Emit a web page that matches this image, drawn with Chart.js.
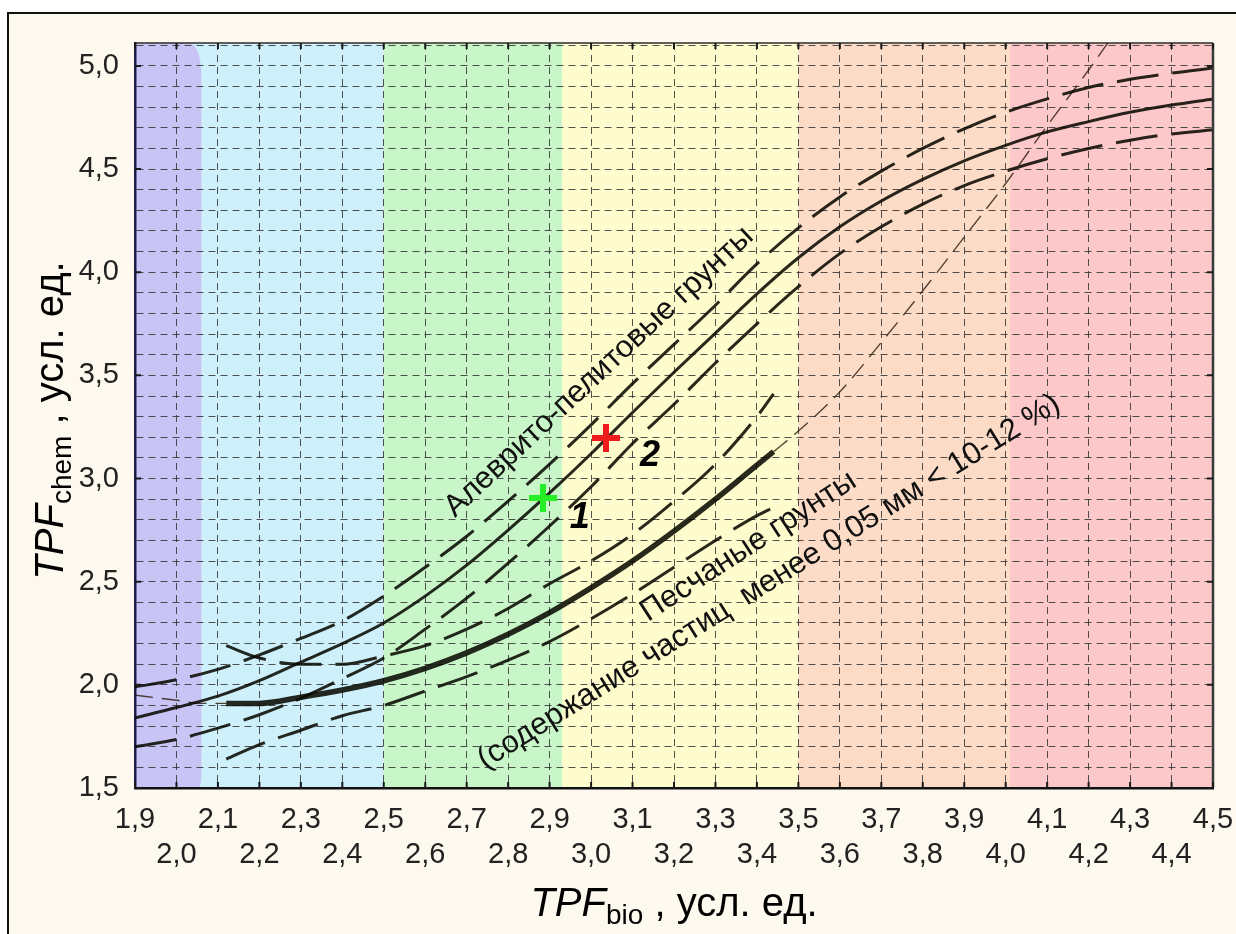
<!DOCTYPE html>
<html lang="ru">
<head>
<meta charset="UTF-8">
<title>TPF chem / TPF bio</title>
<style>
  html, body { margin: 0; padding: 0; background: #fff; overflow: hidden; }
  .frame {
    position: absolute; left: 7px; top: 12px; width: 1240px; height: 930px;
    border-left: 2px solid #111; border-top: 2px solid #111; background: #fdf9ee;
  }
  #chart { position: absolute; left: 0; top: 0; }
</style>
</head>
<body>
<div class="frame"></div>
<canvas id="chart" width="1236" height="934"></canvas>

<script src="https://cdn.jsdelivr.net/npm/chart.js"></script>
<script>
  // зоны по TPF_bio (границы цветных полос)
  const zoneEdges = [1.9, 2.06, 2.5, 2.93, 3.5, 4.01, 4.5];

  // алеврито-пелитовые грунты: кривая и доверительные границы
  const aX      = [1.9, 2.0, 2.1, 2.2, 2.3, 2.4, 2.5, 2.6, 2.7, 2.8, 2.9, 3.0, 3.1, 3.2, 3.3, 3.4, 3.5, 3.6, 3.7, 3.8, 3.9, 4.0, 4.1, 4.2, 4.3, 4.4, 4.5];
  const aCenter = [1.84, 1.89, 1.945, 2.02, 2.11, 2.2, 2.3, 2.43, 2.58, 2.75, 2.93, 3.12, 3.32, 3.515, 3.705, 3.895, 4.07, 4.22, 4.345, 4.45, 4.54, 4.615, 4.68, 4.73, 4.775, 4.81, 4.84];
  const aUpper  = [1.99, 2.025, 2.075, 2.145, 2.225, 2.31, 2.43, 2.57, 2.72, 2.89, 3.07, 3.26, 3.46, 3.65, 3.84, 4.04, 4.215, 4.365, 4.49, 4.6, 4.695, 4.775, 4.84, 4.895, 4.935, 4.965, 4.99];
  const aLower  = [1.7, 1.735, 1.79, 1.855, 1.935, 2.03, 2.13, 2.27, 2.42, 2.59, 2.77, 2.96, 3.17, 3.36, 3.56, 3.75, 3.93, 4.09, 4.22, 4.33, 4.42, 4.49, 4.55, 4.6, 4.64, 4.67, 4.69];

  // песчаные грунты: кривая и доверительные границы
  const bX      = [2.12, 2.2, 2.3, 2.4, 2.5, 2.6, 2.7, 2.8, 2.9, 3.0, 3.1, 3.2, 3.3, 3.4, 3.44];
  const bCenter = [1.91, 1.91, 1.94, 1.975, 2.02, 2.08, 2.155, 2.245, 2.35, 2.47, 2.6, 2.745, 2.9, 3.065, 3.13];
  const bUpper  = [2.19, 2.13, 2.1, 2.1, 2.14, 2.19, 2.27, 2.37, 2.49, 2.6, 2.73, 2.89, 3.07, 3.3, 3.41];
  const bLower  = [1.64, 1.71, 1.78, 1.85, 1.9, 1.97, 2.04, 2.12, 2.21, 2.32, 2.44, 2.57, 2.7, 2.82, 2.86];

  // продолжение кривой песчаных грунтов за пределы данных
  const bLeftX  = [1.9, 2.0, 2.06, 2.12];
  const bLeft   = [1.95, 1.925, 1.91, 1.91];
  const bRightX = [3.44, 3.5, 3.6, 3.7, 3.8, 3.9, 4.0, 4.1, 4.2, 4.26];
  const bRight  = [3.13, 3.23, 3.42, 3.66, 3.91, 4.17, 4.43, 4.71, 4.98, 5.15];

  // пробы 1 и 2
  const sampleX = [2.884, 3.036];
  const sampleY = [2.906, 3.197];
  const sampleNames = ['1', '2'];

  const zoneColors = ['#c9c4f6', '#cdf0fa', '#c9f6c8', '#fefbcd', '#fddcc7', '#fcc8c9'];
  const FONT = "'Liberation Sans', Arial, sans-serif";
  const LINE = 'rgba(10,10,2,0.88)';

  const pts = (xs, ys) => xs.map((x, i) => ({x: x, y: ys[i]}));
  const fmt = v => v.toFixed(1).replace('.', ',');

  const zonePlugin = {
    id: 'zones',
    beforeDraw(chart) {
      const {ctx, chartArea: a, scales: {x}} = chart;
      ctx.save();
      ctx.fillStyle = zoneColors[1];
      ctx.fillRect(a.left, a.top, x.getPixelForValue(zoneEdges[2]) - a.left, a.bottom - a.top);
      for (let i = 2; i < zoneColors.length; i++) {
        const x1 = x.getPixelForValue(zoneEdges[i]);
        const x2 = x.getPixelForValue(zoneEdges[i + 1]);
        ctx.fillStyle = zoneColors[i];
        ctx.fillRect(x1, a.top, x2 - x1, a.bottom - a.top);
      }
      // первая зона со скруглённым верхним углом
      const e = x.getPixelForValue(zoneEdges[1]);
      ctx.fillStyle = zoneColors[0];
      ctx.beginPath();
      ctx.moveTo(a.left, a.top);
      ctx.lineTo(e - 14, a.top);
      ctx.quadraticCurveTo(e, a.top, e, a.top + 36);
      ctx.lineTo(e, a.bottom - 16);
      ctx.quadraticCurveTo(e, a.bottom, e - 3, a.bottom);
      ctx.lineTo(a.left, a.bottom);
      ctx.closePath();
      ctx.fill();
      ctx.restore();
    }
  };

  function richText(ctx, parts, cx, cy) {
    let total = 0;
    parts.forEach(p => { ctx.font = p.font; p.w = ctx.measureText(p.t).width; total += p.w; });
    let px = cx - total / 2;
    parts.forEach(p => {
      ctx.font = p.font;
      ctx.fillText(p.t, px, cy + p.dy);
      px += p.w;
    });
  }

  const overlayPlugin = {
    id: 'overlay',
    afterDraw(chart) {
      const {ctx, chartArea: a, scales: {x, y}} = chart;
      ctx.save();

      // рамка области построения
      ctx.strokeStyle = '#2b2b2b';
      ctx.lineWidth = 1.5;
      ctx.beginPath();
      ctx.moveTo(a.left, a.top); ctx.lineTo(a.right, a.top);
      ctx.stroke();
      ctx.lineWidth = 2.5;
      ctx.strokeStyle = '#3a3a3a';
      ctx.beginPath();
      ctx.moveTo(a.right, a.top); ctx.lineTo(a.right, a.bottom);
      ctx.stroke();

      // штрихи делений внутрь
      ctx.lineWidth = 2;
      ctx.strokeStyle = '#1a1a1a';
      ctx.beginPath();
      x.ticks.forEach(t => {
        const px = x.getPixelForValue(t.value);
        ctx.moveTo(px, a.top); ctx.lineTo(px, a.top + 6);
        ctx.moveTo(px, a.bottom); ctx.lineTo(px, a.bottom - 6);
      });
      y.ticks.forEach(t => {
        if (Math.abs(t.value * 2 - Math.round(t.value * 2)) > 1e-6) return;
        const py = y.getPixelForValue(t.value);
        ctx.moveTo(a.left, py); ctx.lineTo(a.left + 6, py);
        ctx.moveTo(a.right, py); ctx.lineTo(a.right - 6, py);
      });
      ctx.stroke();

      // подписи групп грунтов
      const notes = [
        {t: 'Алеврито-пелитовые грунты', x: 2.672, y: 2.809, ang: -43},
        {t: 'Песчаные грунты', x: 3.137, y: 2.305, ang: -33},
        {t: '(содержание частиц  менее 0,05 мм < 10-12 %)', x: 2.744, y: 1.59, ang: -32}
      ];
      ctx.fillStyle = '#111';
      ctx.textAlign = 'left';
      ctx.textBaseline = 'alphabetic';
      notes.forEach(n => {
        ctx.save();
        ctx.translate(x.getPixelForValue(n.x), y.getPixelForValue(n.y));
        ctx.rotate(n.ang * Math.PI / 180);
        ctx.font = '31px ' + FONT;
        ctx.fillText(n.t, 0, 0);
        ctx.restore();
      });

      // номера проб
      const numPos = [[2.973, 2.81], [3.142, 3.11]];
      ctx.font = 'italic bold 36px ' + FONT;
      ctx.textAlign = 'center';
      ctx.textBaseline = 'middle';
      ctx.fillStyle = '#000';
      sampleNames.forEach((s, i) => {
        ctx.fillText(s, x.getPixelForValue(numPos[i][0]), y.getPixelForValue(numPos[i][1]));
      });

      // подписи осей
      ctx.textAlign = 'left';
      ctx.textBaseline = 'alphabetic';
      ctx.fillStyle = '#000';
      const title = sub => [
        {t: 'TPF', font: 'italic 40px ' + FONT, dy: 0},
        {t: sub, font: '28px ' + FONT, dy: 8},
        {t: ' , усл. ед.', font: '40px ' + FONT, dy: 0}
      ];
      richText(ctx, title('bio'), (a.left + a.right) / 2, 916);
      ctx.save();
      ctx.translate(63, (a.top + a.bottom) / 2 + 5);
      ctx.rotate(-Math.PI / 2);
      richText(ctx, title('chem'), 0, 0);
      ctx.restore();

      ctx.restore();
    }
  };

  const band = (data) => ({
    type: 'line', data: data, borderColor: LINE, borderWidth: 3,
    borderDash: [42, 14], pointRadius: 0, cubicInterpolationMode: 'monotone', order: 2
  });
  const solid = (data, w) => ({
    type: 'line', data: data, borderColor: LINE, borderWidth: w,
    pointRadius: 0, cubicInterpolationMode: 'monotone', order: 2
  });
  const thin = (data) => ({
    type: 'line', data: data, borderColor: 'rgba(40,25,10,0.8)', borderWidth: 1.4,
    borderDash: [18, 9], pointRadius: 0, cubicInterpolationMode: 'monotone', order: 3
  });

  new Chart(document.getElementById('chart'), {
    type: 'line',
    data: {
      datasets: [
        {type: 'scatter', data: [{x: sampleX[0], y: sampleY[0]}], pointStyle: 'cross',
         pointRadius: 14, pointBorderWidth: 6, borderColor: '#28ee28', order: 0},
        {type: 'scatter', data: [{x: sampleX[1], y: sampleY[1]}], pointStyle: 'cross',
         pointRadius: 14, pointBorderWidth: 6, borderColor: '#ee1c1c', order: 0},
        solid(pts(aX, aCenter), 3),
        band(pts(aX, aUpper)),
        band(pts(aX, aLower)),
        solid(pts(bX, bCenter), 5.5),
        band(pts(bX, bUpper)),
        band(pts(bX, bLower)),
        thin(pts(bLeftX, bLeft)),
        thin(pts(bRightX, bRight))
      ]
    },
    options: {
      responsive: false,
      animation: false,
      layout: { padding: { left: 0, top: 43, right: 23, bottom: 0 } },
      plugins: { legend: { display: false }, tooltip: { enabled: false } },
      scales: {
        x: {
          type: 'linear', min: 1.9, max: 4.5,
          afterFit: s => { s.height = 146; s.paddingLeft = 0; s.paddingRight = 0; },
          ticks: {
            stepSize: 0.1, autoSkip: false, maxRotation: 0, padding: 15,
            color: '#222', font: { family: FONT, size: 29 },
            callback: (v, i) => i % 2 === 0 ? [fmt(v), ''] : ['', fmt(v)]
          },
          grid: { color: 'rgba(50,50,50,0.85)', lineWidth: 1, drawTicks: false },
          border: { display: true, color: '#111', width: 2.5, dash: [7, 5] }
        },
        y: {
          type: 'linear', min: 1.5, max: 5.111,
          afterFit: s => { s.width = 135; s.paddingTop = 0; s.paddingBottom = 0; },
          ticks: {
            stepSize: 0.1, includeBounds: false, autoSkip: false, padding: 16,
            color: '#222', font: { family: FONT, size: 29 },
            callback: v => Math.abs(v * 2 - Math.round(v * 2)) < 1e-6 ? fmt(v) : ''
          },
          grid: { color: 'rgba(50,50,50,0.85)', lineWidth: 1, drawTicks: false },
          border: { display: true, color: '#1c1c4a', width: 2.5, dash: [7, 5] }
        }
      }
    },
    plugins: [zonePlugin, overlayPlugin]
  });
</script>
</body>
</html>
